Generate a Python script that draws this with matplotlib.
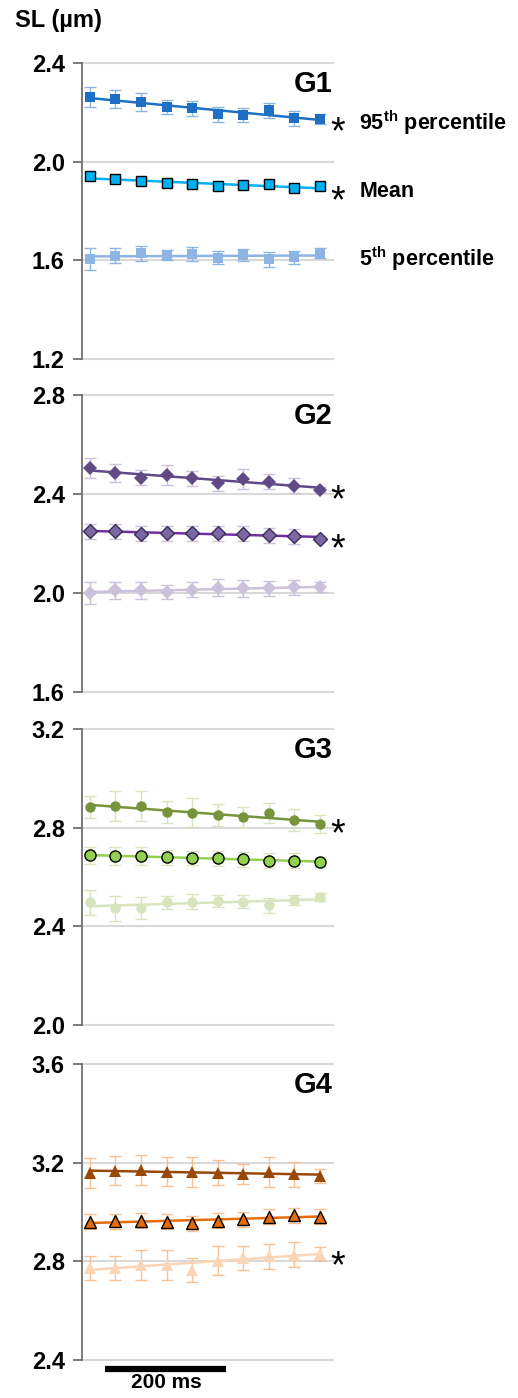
import numpy as np
import matplotlib
matplotlib.use('Agg')
import matplotlib.pyplot as plt
import matplotlib.transforms as mtrans

plt.rcParams['font.family'] = ['Liberation Sans', 'DejaVu Sans']
plt.rcParams['mathtext.fontset'] = 'custom'
plt.rcParams['mathtext.rm'] = 'Liberation Sans:bold'
plt.rcParams['mathtext.bf'] = 'Liberation Sans:bold'

x = np.arange(10)

# G1
g1_p95 = [2.262, 2.254, 2.242, 2.222, 2.216, 2.192, 2.189, 2.208, 2.176, 2.174]
g1_mean = [1.942, 1.930, 1.922, 1.912, 1.908, 1.901, 1.904, 1.908, 1.892, 1.901]
g1_p5 = [1.604, 1.618, 1.628, 1.622, 1.626, 1.611, 1.622, 1.604, 1.612, 1.631]
# G2
g2_p95 = [2.504, 2.485, 2.466, 2.477, 2.463, 2.444, 2.461, 2.450, 2.434, 2.418]
g2_mean = [2.250, 2.249, 2.240, 2.242, 2.241, 2.241, 2.240, 2.234, 2.229, 2.220]
g2_p5 = [2.000, 2.011, 2.011, 2.004, 2.013, 2.022, 2.019, 2.019, 2.023, 2.023]
# G3
g3_p95 = [2.885, 2.888, 2.888, 2.864, 2.861, 2.850, 2.842, 2.858, 2.831, 2.815]
g3_mean = [2.688, 2.685, 2.685, 2.680, 2.677, 2.676, 2.672, 2.666, 2.666, 2.662]
g3_p5 = [2.497, 2.473, 2.473, 2.497, 2.500, 2.503, 2.500, 2.485, 2.508, 2.519]
# G4
g4_p95 = [3.159, 3.168, 3.170, 3.164, 3.162, 3.159, 3.154, 3.162, 3.153, 3.146]
g4_mean = [2.960, 2.962, 2.965, 2.960, 2.954, 2.965, 2.970, 2.981, 2.987, 2.981]
g4_p5 = [2.773, 2.773, 2.786, 2.786, 2.765, 2.803, 2.814, 2.820, 2.827, 2.830]

# error bar half-widths
g1_err = [[0.04, 0.035, 0.035, 0.03, 0.03, 0.03, 0.03, 0.03, 0.03, 0.02],
          [0.012, 0.012, 0.012, 0.012, 0.012, 0.012, 0.012, 0.012, 0.012, 0.012],
          [0.045, 0.03, 0.03, 0.02, 0.03, 0.025, 0.025, 0.03, 0.025, 0.02]]
g2_err = [[0.04, 0.035, 0.03, 0.04, 0.03, 0.03, 0.04, 0.03, 0.03, 0.01],
          [0.03, 0.03, 0.03, 0.03, 0.03, 0.03, 0.03, 0.03, 0.03, 0.01],
          [0.045, 0.035, 0.035, 0.03, 0.03, 0.035, 0.035, 0.03, 0.03, 0.02]]
g3_err = [[0.045, 0.06, 0.06, 0.045, 0.06, 0.045, 0.04, 0.04, 0.045, 0.035],
          [0.035, 0.035, 0.035, 0.03, 0.03, 0.03, 0.03, 0.03, 0.03, 0.02],
          [0.05, 0.05, 0.045, 0.025, 0.03, 0.025, 0.025, 0.03, 0.02, 0.015]]
g4_err = [[0.06, 0.06, 0.06, 0.06, 0.06, 0.05, 0.04, 0.06, 0.05, 0.03],
          [0.03, 0.03, 0.03, 0.03, 0.03, 0.03, 0.03, 0.03, 0.03, 0.03],
          [0.05, 0.05, 0.06, 0.06, 0.05, 0.06, 0.05, 0.05, 0.05, 0.03]]

panels = [
    dict(name='G1', lim=(1.2, 2.4), series=[g1_p95, g1_mean, g1_p5], err=g1_err,
         marker='s', ms=[6.5, 7, 6.5],
         mcol=['#1f6fc4', '#00b0f0', '#8db4e2'], lcol=['#1f6fc4', '#00b0f0', '#8db4e2'],
         ecol=['#8db4e2', '#8db4e2', '#8db4e2'], edge=[None, 'black', None],
         star=[True, True, False],
         labels=[r'95$^{\mathbf{th}}$ percentile', 'Mean', r'5$^{\mathbf{th}}$ percentile']),
    dict(name='G2', lim=(1.6, 2.8), series=[g2_p95, g2_mean, g2_p5], err=g2_err,
         marker='D', ms=[7, 7.5, 7],
         mcol=['#5f4a87', '#7b67a3', '#ccc1da'], lcol=['#5f4a87', '#7030a0', '#ccc1da'],
         ecol=['#ccc1da', '#ccc1da', '#ccc1da'], edge=[None, '#3b2d55', None],
         star=[True, True, False], labels=[None, None, None]),
    dict(name='G3', lim=(2.0, 3.2), series=[g3_p95, g3_mean, g3_p5], err=g3_err,
         marker='o', ms=[7.5, 8, 7.5],
         mcol=['#77933c', '#92d050', '#d7e4bd'], lcol=['#77933c', '#92d050', '#d7e4bd'],
         ecol=['#d7e4bd', '#d7e4bd', '#d7e4bd'], edge=[None, 'black', None],
         star=[True, False, False], labels=[None, None, None]),
    dict(name='G4', lim=(2.4, 3.6), series=[g4_p95, g4_mean, g4_p5], err=g4_err,
         marker='^', ms=[8.5, 8.5, 8.5],
         mcol=['#984807', '#e46c0a', '#fbd5b5'], lcol=['#984807', '#e46c0a', '#fbd5b5'],
         ecol=['#fac090', '#fac090', '#fac090'], edge=[None, 'black', None],
         star=[False, False, True], labels=[None, None, None]),
]

W, H = 518, 1398
fig = plt.figure(figsize=(W / 100, H / 100), dpi=100)
tops = [63, 395, 729, 1064]
bots = [359, 692, 1025, 1360]
left, right = 82, 333

for p, top, bot in zip(panels, tops, bots):
    ax = fig.add_axes([left / W, 1 - bot / H, (right - left) / W, (bot - top) / H])
    ax.set_xlim(-0.31, 9.51)
    ax.set_ylim(*p['lim'])
    lo, hi = p['lim']
    ticks = np.arange(lo, hi + 0.01, 0.4)
    ax.set_yticks(ticks)
    ax.set_yticklabels([f'{t:.1f}' for t in ticks], fontsize=17, fontweight='bold')
    ax.set_xticks([])
    for s in ['top', 'right', 'bottom']:
        ax.spines[s].set_visible(False)
    ax.spines['left'].set_color('#6f6f6f')
    ax.spines['left'].set_linewidth(1.3)
    ax.tick_params(axis='y', length=6.5, width=1.3, color='#6f6f6f', pad=6)
    ax.yaxis.grid(True, color='#d9d9d9', lw=1.5)
    ax.set_axisbelow(True)
    for gl in ax.get_ygridlines():
        gl.set_clip_on(False)

    tr = mtrans.blended_transform_factory(ax.transAxes, ax.transData)
    for i, y in enumerate(p['series']):
        y = np.array(y)
        e = np.array(p['err'][i])
        ax.errorbar(x, y, yerr=e, fmt='none', ecolor=p['ecol'][i], elinewidth=1.0,
                    capsize=4, capthick=1.0, zorder=2)
        # small black SEM stubs below the markers
        ax.errorbar(x, y, yerr=[np.full(10, 0.018), np.zeros(10)], fmt='none',
                    ecolor='black', elinewidth=1.2, capsize=0, zorder=2.5)
        k, b = np.polyfit(x, y, 1)
        ax.plot(x, k * x + b, color=p['lcol'][i], lw=1.8, zorder=3)
        ec = p['edge'][i] if p['edge'][i] else p['mcol'][i]
        ax.plot(x, y, ls='none', marker=p['marker'], ms=p['ms'][i], mfc=p['mcol'][i],
                mec=ec, mew=1.0 if p['edge'][i] else 0, zorder=4)
        yend = k * 9 + b
        if p['star'][i]:
            ax.text(0.99, yend - 0.055, '*', transform=tr, fontsize=27, ha='left',
                    va='center', clip_on=False)
        if p['labels'][i]:
            ax.text(1.105, yend - 0.012, p['labels'][i], transform=tr, fontsize=15.5,
                    fontweight='bold', ha='left', va='center')
    ax.text(1.0, 0.93, p['name'], transform=ax.transAxes, fontsize=21,
            fontweight='bold', ha='right', va='center')

    if p['name'] == 'G4':
        ax.plot([0.59, 5.32], [2.3615, 2.3615], color='black', lw=4.5,
                solid_capstyle='butt', clip_on=False)
        ax.text(2.98, 2.31, '200 ms', fontsize=15, fontweight='bold',
                ha='center', va='center')

fig.text(15 / W, 1 - 20 / H, 'SL (µm)', fontsize=17, fontweight='bold',
         ha='left', va='center')

fig.savefig('out.png', dpi=100)
